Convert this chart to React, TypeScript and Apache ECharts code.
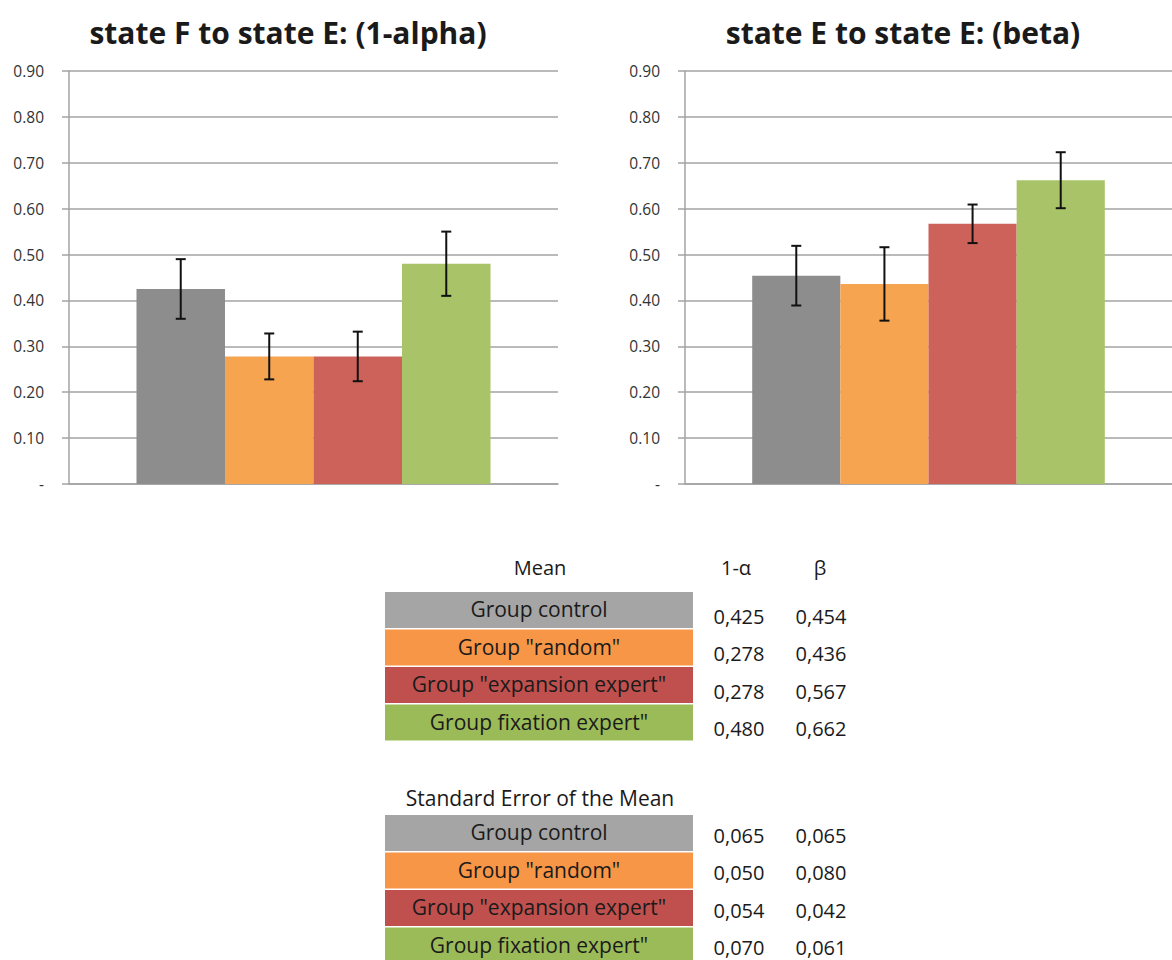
import React, { useEffect, useRef } from "react";
import * as echarts from "echarts";

const groupNames = ["Group control", 'Group "random"', 'Group "expansion expert"', 'Group fixation expert"'];
const alphaMean = [0.425, 0.278, 0.278, 0.48];
const betaMean = [0.454, 0.436, 0.567, 0.662];
const alphaSem = [0.065, 0.05, 0.054, 0.07];
const betaSem = [0.065, 0.08, 0.042, 0.061];
const yTicks = [0, 0.1, 0.2, 0.3, 0.4, 0.5, 0.6, 0.7, 0.8, 0.9];
const chartTitles = ["state F to state E: (1-alpha)", "state E to state E: (beta)"];
const tableHeaders = ["Mean", "1-\u03b1", "\u03b2"];
const semHeader = "Standard Error of the Mean";

const barColors = ["#8d8d8d", "#f7a451", "#cd625b", "#a9c468"];
const cellColors = ["#a5a5a5", "#f79646", "#c0504d", "#9bbb59"];

const GAP = 0.276;
const FONT = "'Open Sans', 'DejaVu Sans', sans-serif";
const GRID_COLOR = "#a3a3a3";

const fmt = (v: number) => v.toFixed(3).replace(".", ",");

export default function App() {
  const ref = useRef<HTMLDivElement>(null);
  useEffect(() => {
    if (!ref.current) return;
    const chart = echarts.init(ref.current, undefined, { renderer: "svg" });
    const grids = [
      { left: 69, right: 614, top: 71, bottom: 476 },
      { left: 685, right: 0, top: 71, bottom: 476 },
    ];
    const xAxes = grids.map((_, i) => ({
      type: "category",
      gridIndex: i,
      data: [""],
      axisLine: { show: true, lineStyle: { color: GRID_COLOR, width: 1.5 } },
      axisTick: { show: false },
      axisLabel: { show: false },
    }));
    const yAxes = grids.map((_, i) => ({
      type: "value",
      gridIndex: i,
      min: yTicks[0],
      max: yTicks[yTicks.length - 1],
      interval: 0.1,
      axisLine: { show: true, lineStyle: { color: GRID_COLOR, width: 1.5 } },
      axisTick: { show: true, length: 7, lineStyle: { color: GRID_COLOR, width: 1.5 } },
      splitLine: { show: true, lineStyle: { color: GRID_COLOR, width: 1.5 } },
      axisLabel: {
        margin: 25,
        fontFamily: FONT,
        fontSize: 15.5,
        color: "#333",
        formatter: (v: number) => (Math.abs(v) < 1e-9 ? "-" : v.toFixed(2)),
      },
    }));
    const datasets = [
      { mean: alphaMean, sem: alphaSem },
      { mean: betaMean, sem: betaSem },
    ];
    const series: any[] = [];
    datasets.forEach((d, gi) => {
      d.mean.forEach((m, si) => {
        series.push({
          type: "bar",
          name: groupNames[si],
          xAxisIndex: gi,
          yAxisIndex: gi,
          data: [m],
          barGap: "0%",
          barCategoryGap: GAP * 100 + "%",
          itemStyle: { color: barColors[si] },
        });
      });
      series.push({
        type: "custom",
        xAxisIndex: gi,
        yAxisIndex: gi,
        z: 10,
        data: d.mean.map((m, si) => [0, m - d.sem[si], m + d.sem[si], si]),
        encode: { x: 0, y: [1, 2] },
        renderItem: (params: any, api: any) => {
          const ci = api.value(0);
          const lo = api.value(1);
          const hi = api.value(2);
          const si = api.value(3);
          const n = d.mean.length;
          const bandW = api.size([1, 0])[0];
          const barW = (bandW * (1 - GAP)) / n;
          const cx = api.coord([ci, 0])[0] + (si - (n - 1) / 2) * barW;
          const yLo = api.coord([ci, lo])[1];
          const yHi = api.coord([ci, hi])[1];
          const st = { stroke: "#111", lineWidth: 2 };
          const cap = 5;
          return {
            type: "group",
            children: [
              { type: "line", shape: { x1: cx, y1: yLo, x2: cx, y2: yHi }, style: st },
              { type: "line", shape: { x1: cx - cap, y1: yHi, x2: cx + cap, y2: yHi }, style: st },
              { type: "line", shape: { x1: cx - cap, y1: yLo, x2: cx + cap, y2: yLo }, style: st },
            ],
          };
        },
      });
    });

    const graphics: any[] = [];
    const cellX = 385;
    const cellW = 308;
    const cellH = 36;
    const step = 37.5;
    const col1 = 739;
    const col2 = 821;
    const txt = (x: number, y: number, text: string, size: number, extra: any = {}) => ({
      type: "text",
      x,
      y,
      style: {
        text,
        fontFamily: FONT,
        fontSize: size,
        lineHeight: size,
        fill: "#1a1a1a",
        align: "center",
        verticalAlign: "middle",
        ...extra,
      },
    });
    graphics.push(txt(540, 567, tableHeaders[0], 20));
    graphics.push(txt(736, 567, tableHeaders[1], 20));
    graphics.push(txt(820, 567, tableHeaders[2], 20));
    graphics.push(txt(540, 798, semHeader, 21));
    const blocks = [
      { top: 592, a: alphaMean, b: betaMean, off: 6 },
      { top: 815, a: alphaSem, b: betaSem, off: 2 },
    ];
    blocks.forEach((bl) => {
      groupNames.forEach((g, i) => {
        const y = bl.top + i * step;
        graphics.push({
          type: "rect",
          shape: { x: cellX, y, width: cellW, height: cellH },
          style: { fill: cellColors[i] },
        });
        graphics.push(txt(cellX + cellW / 2, y + cellH / 2 - 1, g, 21));
        graphics.push(txt(col1, y + cellH / 2 + bl.off, fmt(bl.a[i]), 20));
        graphics.push(txt(col2, y + cellH / 2 + bl.off, fmt(bl.b[i]), 20));
      });
    });

    chart.setOption({
      animation: false,
      backgroundColor: "#fff",
      title: chartTitles.map((t, i) => ({
        text: t,
        left: i === 0 ? 283 : 898,
        top: 12,
        textAlign: "center",
        textStyle: { fontFamily: FONT, fontWeight: "bold", fontSize: 30, color: "#1a1a1a" },
      })),
      grid: grids,
      xAxis: xAxes,
      yAxis: yAxes,
      series,
      graphic: graphics,
    });
    return () => chart.dispose();
  }, []);
  return (
    <div
      ref={ref}
      style={{ position: "fixed", left: 0, top: 0, width: 1172, height: 960, background: "#fff" }}
    />
  );
}
